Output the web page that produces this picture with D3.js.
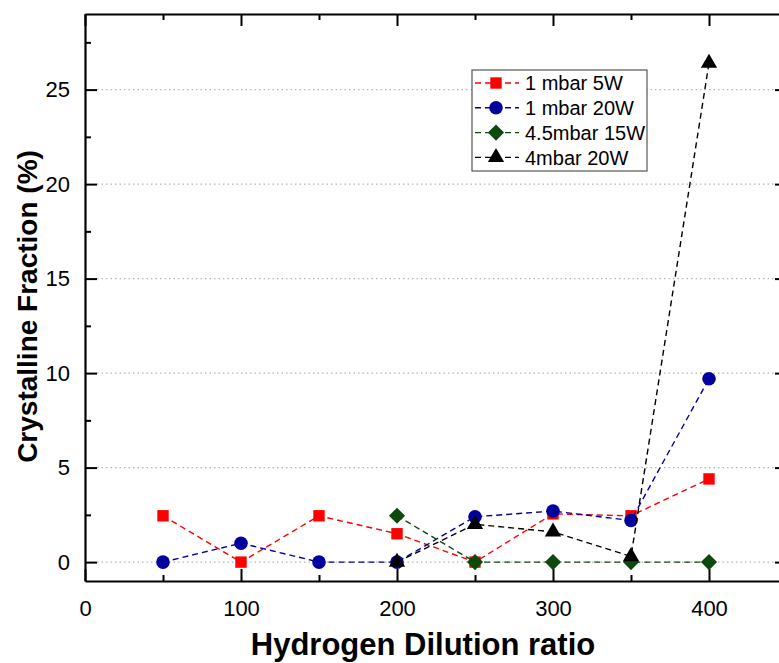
<!DOCTYPE html>
<html>
<head>
<meta charset="utf-8">
<script src="https://cdn.jsdelivr.net/npm/d3@7"></script>
<style>
  html, body { margin: 0; padding: 0; background: #fff; }
  svg { display: block; font-family: "Liberation Sans", Arial, sans-serif; }
</style>
</head>
<body>
<svg id="chart" width="779" height="663"></svg>
<script>
// Hydrogen dilution ratio (x) for each deposition series
const ratios = [50, 100, 150, 200, 250, 300, 350, 400];

// Crystalline fraction (%) per series
const s1mbar5W  = [2.45, 0, 2.45, 1.5, 0, 2.55, 2.45, 4.4];
const s1mbar20W = [0, 1.0, 0, 0, 2.4, 2.7, 2.2, 9.7];
const ratiosHigh = [200, 250, 300, 350, 400];
const s45mbar15W = [2.45, 0, 0, 0, 0];
const s4mbar20W  = [0, 2.0, 1.6, 0.3, 26.4];

const seriesNames = ["1 mbar 5W", "1 mbar 20W", "4.5mbar 15W", "4mbar 20W"];
const seriesColors = ["#ff0000", "#00009c", "#0b4a0b", "#000000"];
const seriesShapes = ["square", "circle", "diamond", "triangle"];

const xTicks = [0, 100, 200, 300, 400];
const xMinorTicks = [50, 150, 250, 350];
const yTicks = [0, 5, 10, 15, 20, 25];
const yMinorTicks = [2.5, 7.5, 12.5, 17.5, 22.5, 27.5];

const series = [
  { x: ratios, y: s1mbar5W },
  { x: ratios, y: s1mbar20W },
  { x: ratiosHigh, y: s45mbar15W },
  { x: ratiosHigh, y: s4mbar20W }
].map((s, i) => ({
  name: seriesNames[i], color: seriesColors[i], shape: seriesShapes[i],
  points: s.x.map((v, j) => [v, s.y[j]])
}));

const svg = d3.select("#chart");
const plotL = 85, plotR = 787, plotT = 14, plotB = 581;

const x = d3.scaleLinear().domain([0, 450]).range([plotL, plotR]);
const y = d3.scaleLinear().domain([-1, 29]).range([plotB, plotT]);

// Dotted horizontal grid
svg.append("g")
  .selectAll("line")
  .data(yTicks)
  .join("line")
  .attr("x1", plotL + 12).attr("x2", plotR - 12)
  .attr("y1", d => y(d)).attr("y2", d => y(d))
  .attr("stroke", "#b4b4b4")
  .attr("stroke-width", 1.2)
  .attr("stroke-dasharray", "1.5,3");

function styleAxis(g) {
  g.select(".domain").attr("stroke", "#000").attr("stroke-width", 2.2);
  g.selectAll(".tick line").attr("stroke", "#000").attr("stroke-width", 2);
  g.selectAll(".tick text").attr("fill", "#000").attr("font-size", 22);
}
function minorTicks(g) {
  g.select(".domain").remove();
  g.selectAll(".tick line").attr("stroke", "#000").attr("stroke-width", 2);
}

// Bottom axis (ticks point inward)
const gx = svg.append("g")
  .attr("transform", `translate(0,${plotB})`)
  .call(d3.axisBottom(x).tickValues(xTicks).tickSizeInner(-12).tickSizeOuter(0).tickPadding(19));
styleAxis(gx);
svg.append("g")
  .attr("transform", `translate(0,${plotB})`)
  .call(d3.axisBottom(x).tickValues(xMinorTicks).tickSizeInner(-6).tickSizeOuter(0).tickFormat(""))
  .call(minorTicks);

// Top axis
const gxTop = svg.append("g")
  .attr("transform", `translate(0,${plotT})`)
  .call(d3.axisTop(x).tickValues(xTicks).tickSizeInner(-12).tickSizeOuter(0).tickFormat(""));
styleAxis(gxTop);
svg.append("g")
  .attr("transform", `translate(0,${plotT})`)
  .call(d3.axisTop(x).tickValues(xMinorTicks).tickSizeInner(-6).tickSizeOuter(0).tickFormat(""))
  .call(minorTicks);

// Left axis
const gy = svg.append("g")
  .attr("transform", `translate(${plotL},0)`)
  .call(d3.axisLeft(y).tickValues(yTicks).tickSizeInner(-12).tickSizeOuter(0).tickPadding(15));
styleAxis(gy);
svg.append("g")
  .attr("transform", `translate(${plotL},0)`)
  .call(d3.axisLeft(y).tickValues(yMinorTicks).tickSizeInner(-6).tickSizeOuter(0).tickFormat(""))
  .call(minorTicks);

// Right axis
const gyRight = svg.append("g")
  .attr("transform", `translate(${plotR},0)`)
  .call(d3.axisRight(y).tickValues(yTicks).tickSizeInner(-12).tickSizeOuter(0).tickFormat(""));
styleAxis(gyRight);

// Axis titles
svg.append("text")
  .attr("x", (x(0) + x(450)) / 2 - 13)
  .attr("y", 655)
  .attr("text-anchor", "middle")
  .attr("font-weight", "bold")
  .attr("font-size", 31)
  .text("Hydrogen Dilution ratio");

svg.append("text")
  .attr("transform", `translate(37,${(plotT + plotB) / 2 + 9}) rotate(-90)`)
  .attr("text-anchor", "middle")
  .attr("font-weight", "bold")
  .attr("font-size", 28)
  .text("Crystalline Fraction (%)");

// Marker shapes (diamond is a square turned by 45°)
const symbolFor = {
  square: { d: d3.symbol(d3.symbolSquare, 130)(), rot: 0 },
  circle: { d: d3.symbol(d3.symbolCircle, 145)(), rot: 0 },
  diamond: { d: d3.symbol(d3.symbolSquare, 130)(), rot: 45 },
  triangle: { d: d3.symbol(d3.symbolTriangle, 115)(), rot: 0 }
};

const line = d3.line().x(d => x(d[0])).y(d => y(d[1]));

const plot = svg.append("g");
series.forEach(s => {
  const g = plot.append("g");
  const sym = symbolFor[s.shape];
  g.append("path")
    .datum(s.points)
    .attr("d", line)
    .attr("fill", "none")
    .attr("stroke", s.color)
    .attr("stroke-width", 1.4)
    .attr("stroke-dasharray", "6,4");
  g.selectAll("path.m")
    .data(s.points)
    .join("path")
    .attr("class", "m")
    .attr("transform", d => `translate(${x(d[0])},${y(d[1])}) rotate(${sym.rot})`)
    .attr("d", sym.d)
    .attr("fill", s.color);
});

// Legend
const lg = svg.append("g").attr("transform", "translate(472,70)");
lg.append("rect")
  .attr("width", 175).attr("height", 101)
  .attr("fill", "#fff")
  .attr("stroke", "#555")
  .attr("stroke-width", 1.2);
series.forEach((s, i) => {
  const sym = symbolFor[s.shape];
  const row = lg.append("g").attr("transform", `translate(0,${13 + i * 24.8})`);
  row.append("line")
    .attr("x1", 3).attr("x2", 47)
    .attr("stroke", s.color)
    .attr("stroke-width", 1.4)
    .attr("stroke-dasharray", "6,4");
  row.append("path")
    .attr("transform", `translate(24,0) rotate(${sym.rot})`)
    .attr("d", sym.d)
    .attr("fill", s.color);
  row.append("text")
    .attr("x", 53)
    .attr("dy", "0.36em")
    .attr("font-size", 20)
    .text(s.name);
});
</script>
</body>
</html>
